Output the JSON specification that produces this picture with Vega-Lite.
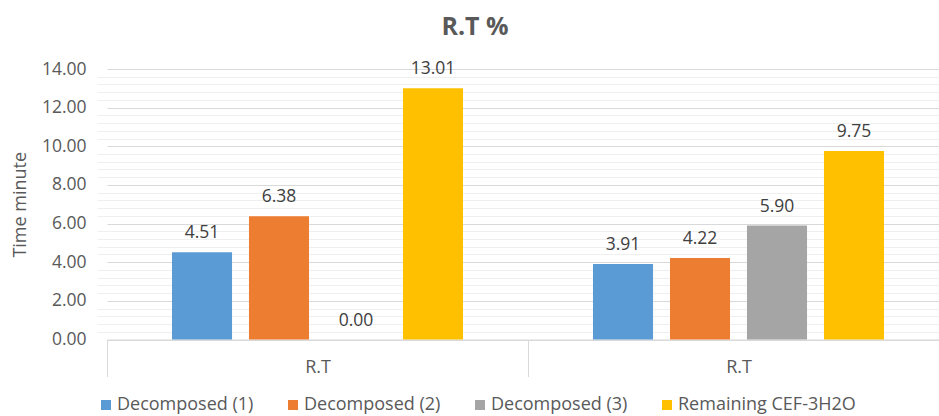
{
  "$schema": "https://vega.github.io/schema/vega-lite/v6.json",
  "width": 832,
  "height": 270.5,
  "autosize": {"type": "none"},
  "padding": {"left": 107, "top": 69, "right": 0, "bottom": 76.5},
  "title": {"text": "R.T %", "fontSize": 25, "font": "Open Sans", "fontWeight": "bold", "color": "#595959", "anchor": "middle", "frame": "group", "dx": -48, "offset": 0, "baseline": "alphabetic"},
  "config": {"view": {"stroke": null}, "font": "Open Sans"},
  "data": {"values": [
    {"group": "g1", "series": "Decomposed (1)", "value": 4.51},
    {"group": "g1", "series": "Decomposed (2)", "value": 6.38},
    {"group": "g1", "series": "Decomposed (3)", "value": 0.00},
    {"group": "g1", "series": "Remaining CEF-3H2O", "value": 13.01},
    {"group": "g2", "series": "Decomposed (1)", "value": 3.91},
    {"group": "g2", "series": "Decomposed (2)", "value": 4.22},
    {"group": "g2", "series": "Decomposed (3)", "value": 5.90},
    {"group": "g2", "series": "Remaining CEF-3H2O", "value": 9.75}
  ]},
  "encoding": {
    "x": {"field": "group", "type": "nominal", "title": null,
      "scale": {"range": [0, 842], "paddingInner": 0, "paddingOuter": 0},
      "axis": {"labelExpr": "datum.label ? 'R.T' : ''", "labelAngle": 0, "labelFontSize": 18, "labelColor": "#595959", "labelPadding": -18,
        "tickBand": "extent", "tickSize": 37, "tickColor": "#d9d9d9", "tickWidth": 1,
        "domainColor": "#d9d9d9", "domainWidth": 1, "grid": false}},
    "xOffset": {"field": "series", "type": "nominal",
      "sort": ["Decomposed (1)", "Decomposed (2)", "Decomposed (3)", "Remaining CEF-3H2O"],
      "scale": {"paddingInner": 0.22, "paddingOuter": 0.844}}
  },
  "layer": [
    {
      "mark": {"type": "bar"},
      "encoding": {
        "y": {"field": "value", "type": "quantitative", "title": "Time minute",
          "scale": {"domain": [0, 14], "nice": false},
          "axis": {"values": [0, 2, 4, 6, 8, 10, 12, 14], "format": ".2f", "ticks": false, "domain": false,
            "labelFontSize": 17.5, "labelColor": "#595959", "labelPadding": 21,
            "gridColor": "#d9d9d9", "gridWidth": 1,
            "titleFontSize": 18, "titleFontWeight": "normal", "titleColor": "#595959", "titlePadding": 12}},
        "color": {"field": "series", "type": "nominal",
          "scale": {"domain": ["Decomposed (1)", "Decomposed (2)", "Decomposed (3)", "Remaining CEF-3H2O"],
            "range": ["#5B9BD5", "#ED7D31", "#A5A5A5", "#FFC000"]},
          "legend": {"orient": "none", "legendX": -10, "legendY": 327, "direction": "horizontal", "title": null,
            "symbolType": "square", "symbolSize": 100, "symbolStrokeWidth": 0, "labelOffset": 2,
            "columnPadding": 30, "labelFontSize": 18, "labelLimit": 400, "labelColor": "#595959"}}
      }
    },
    {
      "mark": {"type": "text", "baseline": "alphabetic", "dy": -14, "fontSize": 17.5, "color": "#404040"},
      "encoding": {
        "y": {"field": "value", "type": "quantitative",
          "axis": {"orient": "right", "values": [0.4, 0.8, 1.2, 1.6, 2.4, 2.8, 3.2, 3.6, 4.4, 4.8, 5.2, 5.6, 6.4, 6.8, 7.2, 7.6, 8.4, 8.8, 9.2, 9.6, 10.4, 10.8, 11.2, 11.6, 12.4, 12.8, 13.2, 13.6],
            "labels": false, "ticks": false, "domain": false, "title": null, "grid": true, "gridColor": "#efefef", "gridWidth": 1}},
        "text": {"field": "value", "type": "quantitative", "format": ".2f"}
      }
    }
  ],
  "resolve": {"axis": {"y": "independent"}}
}
